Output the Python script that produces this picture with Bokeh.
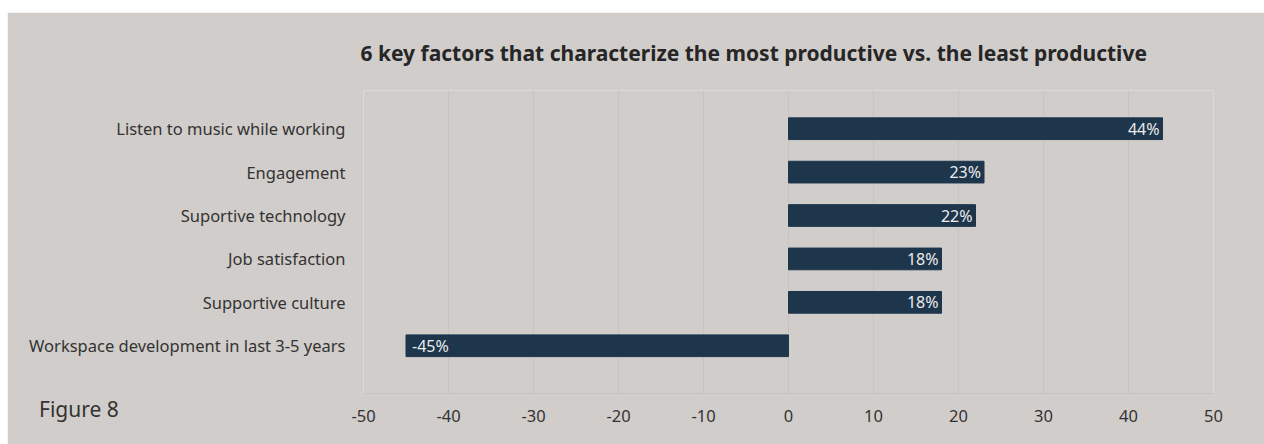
from bokeh.plotting import figure
from bokeh.models import ColumnDataSource, FixedTicker, Range1d, Div
from bokeh.embed import file_html
from bokeh.resources import INLINE
from bokeh.core.properties import value

categories = [
    "Listen to music while working",
    "Engagement",
    "Suportive technology",
    "Job satisfaction",
    "Supportive culture",
    "Workspace development in last 3-5 years",
]
values = [44, 23, 22, 18, 18, -45]
x_ticks = [-50, -40, -30, -20, -10, 0, 10, 20, 30, 40, 50]
title_text = "6 key factors that characterize the most productive vs. the least productive"
figure_note = "Figure 8"

BG = "#d1cdca"
BAR = "#1d364b"
GRID = "#c4c3c5"
TXT = "#333333"
FONT = "Noto Sans"

n = len(categories)
ypos = [n - 1 - i for i in range(n)]
labels = [f"{v}%" for v in values]
aligns = ["right" if v >= 0 else "left" for v in values]
offsets = [-3 if v >= 0 else 6 for v in values]

src = ColumnDataSource(dict(y=ypos, v=values, lab=labels, al=aligns, off=offsets))

p = figure(width=1257, height=432, output_backend="svg", toolbar_location=None,
           x_range=Range1d(-50, 50), y_range=Range1d(-1.1, 5.88),
           min_border_left=356, min_border_right=51, min_border_top=78, min_border_bottom=51,
           background_fill_color=BG, border_fill_color=BG,
           margin=(12, 0, 0, 7))
p.outline_line_color = None

p.hbar(y="y", left=0, right="v", height=0.5, color=BAR, source=src)
p.text(x="v", y="y", text="lab", text_align="al", x_offset="off", text_baseline="middle",
       text_color="#ebebeb", text_font=value(FONT), text_font_size="16px", source=src)

p.title.text = title_text
p.title.text_font = FONT
p.title.text_font_size = "21px"
p.title.text_font_style = "bold"
p.title.text_color = "#262626"
p.title.align = "left"
p.title.offset = -3
p.title.standoff = 48

p.xaxis.ticker = FixedTicker(ticks=x_ticks)
p.xaxis.major_label_overrides = {t: str(t) for t in x_ticks}
p.xaxis.axis_line_color = GRID
p.xaxis.major_tick_line_color = None
p.xaxis.minor_tick_line_color = None
p.xaxis.major_label_text_font = FONT
p.xaxis.major_label_text_font_size = "16.5px"
p.xaxis.major_label_text_color = TXT
p.xaxis.major_label_standoff = 10

p.yaxis.ticker = FixedTicker(ticks=ypos)
p.yaxis.major_label_overrides = {y: c for y, c in zip(ypos, categories)}
p.yaxis.axis_line_color = None
p.yaxis.major_tick_line_color = None
p.yaxis.minor_tick_line_color = None
p.yaxis.major_label_text_font = FONT
p.yaxis.major_label_text_font_size = "16.5px"
p.yaxis.major_label_text_color = TXT
p.yaxis.major_label_standoff = 12

p.xgrid.grid_line_color = GRID
p.xgrid.ticker = FixedTicker(ticks=x_ticks)
p.ygrid.grid_line_color = None

note = Div(text=figure_note, styles={
    "position": "absolute", "left": "39px", "top": "396px",
    "font-family": FONT, "font-size": "21px", "color": TXT,
    "line-height": "26px", "margin": "0", "padding": "0",
})

open("out.html", "w").write(file_html([p, note], INLINE))
